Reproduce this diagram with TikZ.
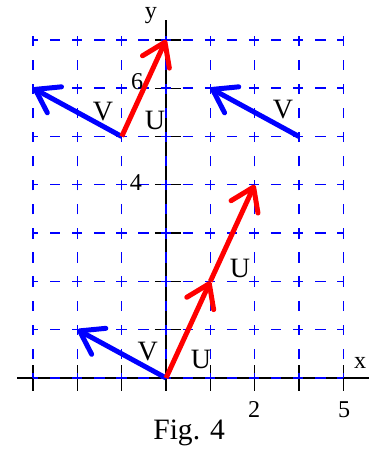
\documentclass[tikz,border=0pt]{standalone}
\usepackage{fontspec}
\setmainfont{Liberation Serif}
\usetikzlibrary{arrows.meta}
\tikzset{
  gridh/.style={blue, line width=0.9pt, dash pattern=on 6.6pt off 7.59pt, dash phase=3.3pt},
  gridv/.style={blue, line width=0.9pt, dash pattern=on 6.6pt off 8.87pt, dash phase=3.3pt},
  axis/.style={black, line width=0.8pt},
  vecu/.style={red, line width=3.2pt, -{Straight Barb[length=14pt,width=19pt,round=false]}},
  vecv/.style={blue, line width=3.2pt, -{Straight Barb[length=14pt,width=19pt,round=false]}},
  vlabel/.style={font=\fontsize{18}{18}\selectfont, inner sep=0pt},
  numlabel/.style={font=\fontsize{15.5}{15.5}\selectfont, inner sep=0pt}
}
\begin{document}
\begin{tikzpicture}[x=1cm,y=1.09cm]
\useasboundingbox (-3.747,-1.491) rectangle (4.650,7.826);

% axes and ticks
\draw[axis] (-3.36,0) -- (4.58,0);
\draw[axis] (0,-0.1) -- (0,7.41);
\foreach \i in {-3,...,4} \draw[axis] (\i,-0.26) -- (\i,0.26);
\foreach \j in {0,...,7} \draw[axis] (-0.25,\j) -- (0.33,\j);

% grid
\foreach \i in {-3,...,4} \draw[gridv] (\i,0) -- (\i,7.17);
\foreach \j in {0,...,7} \draw[gridh] (-3,\j) -- (4,\j);

% vector end points
\coordinate (o) at (0,0);
\coordinate (u1) at (1,2);
\coordinate (u2) at (2,4);
\coordinate (v1) at (-2,1);
\coordinate (a) at (-1,5);
\coordinate (b) at (0,7);
\coordinate (c) at (-3,6);
\coordinate (d) at (3,5);
\coordinate (e) at (1,6);

\draw[vecv] (o)--(v1);
\draw[vecu] (o)--(u1);
\draw[vecu] (u1)--(u2);
\draw[vecv] (a)--(c);
\draw[vecu] (a)--(b);
\draw[vecv] (d)--(e);

% labels
\node[vlabel] (lv1) at (-0.41,0.54) {V};
\node[vlabel] (lu1) at (0.79,0.39) {U};
\node[vlabel] (lu2) at (1.67,2.26) {U};
\node[vlabel] (lv2) at (-1.42,5.51) {V};
\node[vlabel] (lu3) at (-0.25,5.34) {U};
\node[vlabel] (lv3) at (2.64,5.55) {V};

\node[numlabel] (ly) at (-0.34,7.50) {y};
\node[numlabel] (lx) at (4.38,0.31) {x};
\node[numlabel] (l6) at (-0.65,6.13) {6};
\node[numlabel] (l4) at (-0.68,4.04) {4};
\node[numlabel] (l2) at (1.99,-0.66) {2};
\node[numlabel] (l5) at (4.02,-0.66) {5};

\node[font=\fontsize{19}{19}\selectfont, inner sep=0pt] (fig) at (0.52,-1.14) {Fig. 4};
\end{tikzpicture}
\end{document}
